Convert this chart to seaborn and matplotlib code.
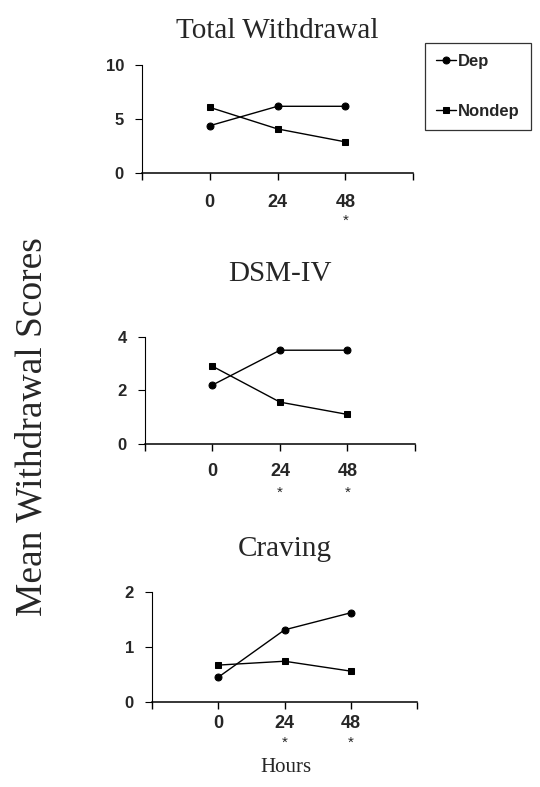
import pandas as pd
import matplotlib
matplotlib.use("Agg")
import matplotlib.pyplot as plt
import seaborn as sns

hours = ["0", "24", "48"]
groups = ["Dep", "Nondep"]

titles = ["Total Withdrawal", "DSM-IV", "Craving"]
dep_values = [[4.4, 6.2, 6.2], [2.2, 3.5, 3.5], [0.45, 1.31, 1.62]]
nondep_values = [[6.1, 4.1, 2.9], [2.9, 1.56, 1.1], [0.67, 0.74, 0.56]]
y_ticks = [[0, 5, 10], [0, 2, 4], [0, 1, 2]]
# hours that were marked significant
star_hours = [["48"], ["24", "48"], ["24", "48"]]

sns.set_style("white")
plt.rcParams["font.family"] = ["Liberation Sans", "DejaVu Sans"]

fig = plt.figure(figsize=(5.4, 7.87), dpi=100)

# axes boxes in figure fraction
boxes = [
    [0.263, 0.780, 0.502, 0.137],
    [0.2685, 0.436, 0.500, 0.136],
    [0.2815, 0.108, 0.491, 0.140],
]
label_pad = [10, 9, 4]
star_pad = [34, 35, 29]
title_pad = [20, 40, 26]

serif = ["Liberation Serif", "DejaVu Serif"]

for i in range(3):
    ax = fig.add_axes(boxes[i])
    df = pd.DataFrame({
        "pos": list(range(1, len(hours) + 1)) * 2,
        "score": dep_values[i] + nondep_values[i],
        "group": [groups[0]] * len(hours) + [groups[1]] * len(hours),
    })
    sns.lineplot(data=df, x="pos", y="score", style="group",
                 markers={"Dep": "o", "Nondep": "s"}, dashes=False,
                 color="black", linewidth=1.0, markersize=5,
                 markeredgecolor="black", ax=ax, legend=(i == 0))
    ax.set_xlim(0, 4)
    ax.set_ylim(y_ticks[i][0], y_ticks[i][-1])
    ax.set_yticks(y_ticks[i])
    ax.set_yticklabels([str(t) for t in y_ticks[i]], fontsize=12, fontweight="bold")
    ax.set_xticks([0, 1, 2, 3, 4])
    ax.set_xticklabels([""] + hours + [""], fontsize=13, fontweight="bold")
    ax.tick_params(axis="x", direction="out", length=5, width=1, color="black",
                   pad=label_pad[i], bottom=True)
    ax.tick_params(axis="y", direction="out", length=5, width=0.8, color="black",
                   pad=8, left=True)
    for s in ["top", "right"]:
        ax.spines[s].set_visible(False)
    ax.spines["left"].set_linewidth(0.8)
    ax.spines["bottom"].set_linewidth(1.1)
    ax.spines["left"].set_color("black")
    ax.spines["bottom"].set_color("black")
    ax.set_xlabel("")
    ax.set_ylabel("")
    ax.set_title(titles[i], family=serif, fontsize=21, pad=title_pad[i])

    for h in star_hours[i]:
        ax.annotate("*", xy=(hours.index(h) + 1, 0), xycoords=("data", "axes fraction"),
                    xytext=(0, -star_pad[i]), textcoords="offset points",
                    ha="center", va="center", fontsize=11)

    if i == 0:
        handles, labels = ax.get_legend_handles_labels()
        ax.get_legend().remove()
        leg = fig.legend(handles, labels, loc="upper left",
                         bbox_to_anchor=(425 / 540, 1 - 43 / 787),
                         frameon=True, fancybox=False, edgecolor="black",
                         handlelength=1.2, handletextpad=0.15, labelspacing=2.1,
                         borderpad=0.65, borderaxespad=0,
                         prop={"weight": "bold", "size": 12})
        leg.get_frame().set_linewidth(0.9)

fig.text(32 / 540, 1 - 427 / 787, "Mean Withdrawal Scores", rotation=90,
         family=serif, fontsize=27, ha="center", va="center")
fig.text(286 / 540, 1 - 768 / 787, "Hours", family=serif, fontsize=15,
         ha="center", va="center")

fig.savefig("out.png", dpi=100, facecolor="white")
